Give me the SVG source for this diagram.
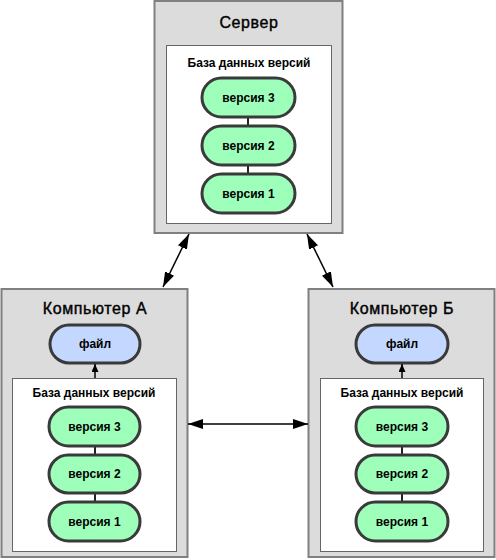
<svg xmlns="http://www.w3.org/2000/svg" width="496" height="560" viewBox="0 0 496 560">
<defs>
<marker id="ah" viewBox="0 0 15 10" refX="15" refY="5" markerWidth="15" markerHeight="10" markerUnits="userSpaceOnUse" orient="auto-start-reverse"><path d="M0,0 L15,5 L0,10 z" fill="#000"/></marker>
<marker id="ahs" viewBox="0 0 8 7" refX="8" refY="3.5" markerWidth="8" markerHeight="7" markerUnits="userSpaceOnUse" orient="auto"><path d="M0,0 L8,3.5 L0,7 z" fill="#000"/></marker>
</defs>
<style>
.outer{fill:#dcdcdc;stroke:#808080;stroke-width:2}
.inner{fill:#fff;stroke:#666;stroke-width:1}
.ver{fill:#9effba;stroke:#3a3a3a;stroke-width:3}
.file{fill:#c4d8ff;stroke:#3a3a3a;stroke-width:3}
.link{stroke:#222;stroke-width:2}
text{font-family:"Liberation Sans",Arial,sans-serif;text-anchor:middle;fill:#000}
.title{font-size:16px;letter-spacing:0.6px;stroke:#000;stroke-width:0.4}
.db{font-size:12px;font-weight:bold}
.lbl{font-size:12px;font-weight:bold}
.conn{stroke:#000;stroke-width:1.5;fill:none}
</style>
<g id="server">
<rect class="outer" x="154.5" y="1" width="188" height="232"/>
<text class="title" x="249" y="28">Сервер</text>
<rect class="inner" x="166.5" y="45.5" width="165" height="178"/>
<text class="db" x="249" y="67">База данных версий</text>
<line class="link" x1="248" y1="117" x2="248" y2="126"/>
<line class="link" x1="248" y1="165" x2="248" y2="174"/>
<rect class="ver" x="202" y="78" width="93" height="39" rx="19.5"/>
<text class="lbl" x="248.5" y="101.5">версия 3</text>
<rect class="ver" x="202" y="126" width="93" height="39" rx="19.5"/>
<text class="lbl" x="248.5" y="149.5">версия 2</text>
<rect class="ver" x="202" y="174" width="93" height="39" rx="19.5"/>
<text class="lbl" x="248.5" y="197.5">версия 1</text>
</g>
<g id="compA">
<rect class="outer" x="1.5" y="289" width="186" height="268"/>
<text class="title" x="95" y="314">Компьютер А</text>
<rect class="file" x="50" y="325" width="90" height="38" rx="19"/>
<text class="lbl" x="95" y="348">файл</text>
<rect class="inner" x="12.5" y="378.5" width="164" height="173"/>
<text class="db" x="94" y="397">База данных версий</text>
<line class="link" x1="95" y1="446" x2="95" y2="455"/>
<line class="link" x1="95" y1="493" x2="95" y2="502"/>
<rect class="ver" x="49" y="407" width="91" height="39" rx="19.5"/>
<text class="lbl" x="94.5" y="430.5">версия 3</text>
<rect class="ver" x="49" y="455" width="91" height="38" rx="19"/>
<text class="lbl" x="94.5" y="478">версия 2</text>
<rect class="ver" x="49" y="502" width="91" height="39" rx="19.5"/>
<text class="lbl" x="94.5" y="525.5">версия 1</text>
</g>
<g id="compB">
<rect class="outer" x="308.5" y="289" width="186" height="268"/>
<text class="title" x="402" y="314">Компьютер Б</text>
<rect class="file" x="356" y="325" width="92" height="38" rx="19"/>
<text class="lbl" x="402" y="348">файл</text>
<rect class="inner" x="320.5" y="378.5" width="163" height="173"/>
<text class="db" x="402" y="397">База данных версий</text>
<line class="link" x1="402" y1="446" x2="402" y2="455"/>
<line class="link" x1="402" y1="493" x2="402" y2="502"/>
<rect class="ver" x="356" y="407" width="92" height="39" rx="19.5"/>
<text class="lbl" x="402" y="430.5">версия 3</text>
<rect class="ver" x="356" y="455" width="92" height="38" rx="19"/>
<text class="lbl" x="402" y="478">версия 2</text>
<rect class="ver" x="356" y="502" width="92" height="39" rx="19.5"/>
<text class="lbl" x="402" y="525.5">версия 1</text>
</g>
<g id="connectors">
<line class="conn" x1="189" y1="234" x2="163" y2="287" marker-start="url(#ah)" marker-end="url(#ah)"/>
<line class="conn" x1="307" y1="234" x2="333" y2="287" marker-start="url(#ah)" marker-end="url(#ah)"/>
<line class="conn" x1="188" y1="424" x2="308" y2="424" marker-start="url(#ah)" marker-end="url(#ah)"/>
<line class="conn" x1="95" y1="378" x2="95" y2="364" marker-end="url(#ahs)"/>
<line class="conn" x1="402" y1="378" x2="402" y2="364" marker-end="url(#ahs)"/>
</g>
</svg>
